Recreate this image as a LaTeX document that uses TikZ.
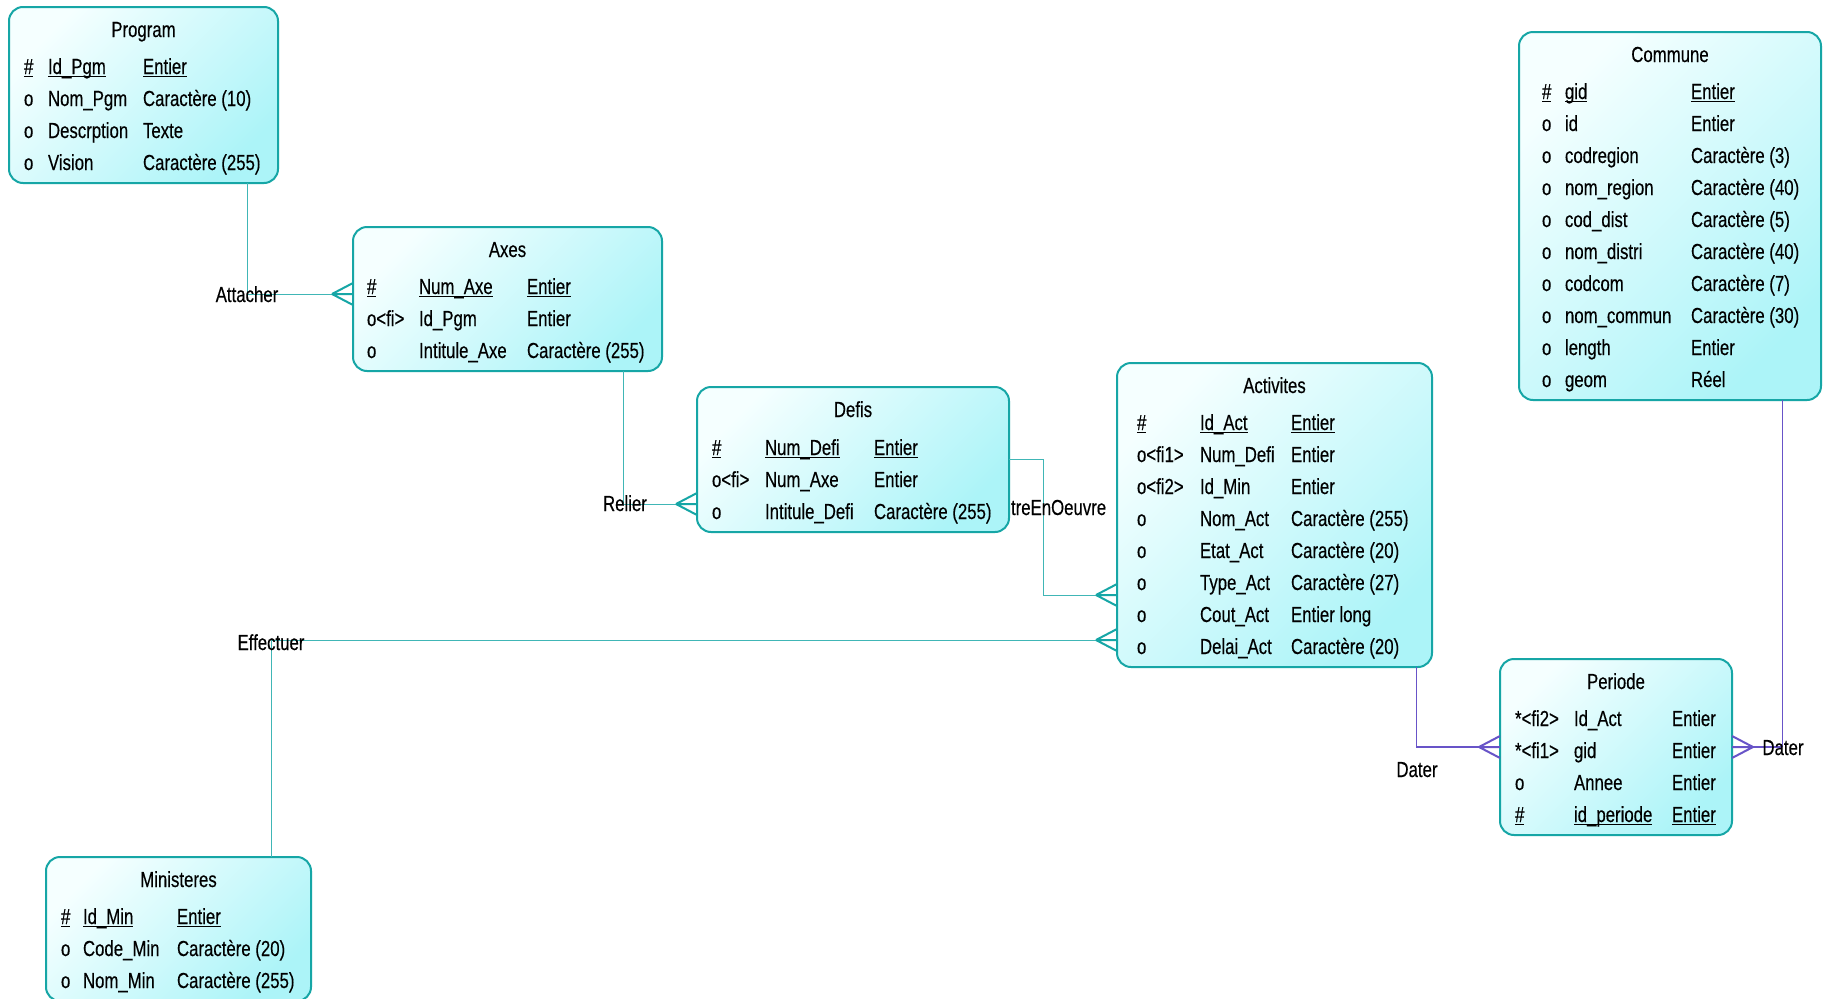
\documentclass[tikz,border=0pt]{standalone}
\usepackage{fontspec}
\setmainfont{Liberation Sans}[FakeStretch=0.77, FakeBold=0.3]
\definecolor{boxline}{RGB}{22,166,166}
\definecolor{fillA}{RGB}{245,255,255}
\definecolor{fillB}{RGB}{172,244,248}
\definecolor{linkc}{RGB}{64,182,182}
\definecolor{purp}{RGB}{104,84,200}
\tikzset{
 entbox/.style={draw=boxline, line width=2pt, rounded corners=14pt, top color=fillA, bottom color=fillB, shading angle=45, inner sep=0pt, outer sep=0pt, anchor=north west},
 txt/.style={anchor=base west, inner sep=0pt, outer sep=0pt},
 ttl/.style={anchor=base, inner sep=0pt, outer sep=0pt},
 lbl/.style={anchor=base, inner sep=0pt, outer sep=0pt},
 ulline/.style={line width=1.4pt, black},
 link/.style={draw=linkc, line width=1pt},
 purpthin/.style={draw=purp, line width=0.7pt},
 purpthick/.style={draw=purp, line width=2.2pt},
 crowL/.pic={\draw[line width=2pt, pic actions] (-21,0) -- (0,-11) (-21,0) -- (0,0) (-21,0) -- (0,11);},
 crowR/.pic={\draw[line width=2pt, pic actions] (21,0) -- (0,-11) (21,0) -- (0,0) (21,0) -- (0,11);}
}
\newcommand\ulbox[3]{\node[txt] (#1) at (#2) {#3};
  \draw[ulline] ([yshift=-2.5pt]#1.base west) -- ([yshift=-2.5pt]#1.base east);}
\begin{document}
\begin{tikzpicture}[x=1pt, y=-1pt, font=\fontsize{21.8pt}{25pt}\selectfont]
\clip (0,0) rectangle (1824,999);
\fill[white] (0,0) rectangle (1824,999);

% ---------- entity boxes ----------
\node[entbox, minimum width=269pt, minimum height=176pt] (program) at (9,7) {};
\node[entbox, minimum width=309pt, minimum height=144pt] (axes) at (353,227) {};
\node[entbox, minimum width=312pt, minimum height=145pt] (defis) at (697,387) {};
\node[entbox, minimum width=315pt, minimum height=304pt] (activites) at (1117,363) {};
\node[entbox, minimum width=302pt, minimum height=368pt] (commune) at (1519,32) {};
\node[entbox, minimum width=232pt, minimum height=176pt] (periode) at (1500,659) {};
\node[entbox, minimum width=265pt, minimum height=144pt] (ministeres) at (46,857) {};

% ---------- Program ----------
\node[ttl] (program-t) at (143.5,37) {Program};
\ulbox{program-k1}{24,74}{\#}
\ulbox{program-k2}{48,74}{Id\_Pgm}
\ulbox{program-k3}{143,74}{Entier}
\foreach \a/\b/\c [count=\i from 0] in {o/Nom\_Pgm/Caractère (10),o/Descrption/Texte,o/Vision/Caractère (255)}{
  \node[txt] (program-a\i) at (24,{106+32*\i}) {\a};
  \node[txt] (program-b\i) at (48,{106+32*\i}) {\b};
  \node[txt] (program-c\i) at (143,{106+32*\i}) {\c};
}

% ---------- Axes ----------
\node[ttl] (axes-t) at (507.5,257) {Axes};
\ulbox{axes-k1}{367,294}{\#}
\ulbox{axes-k2}{419,294}{Num\_Axe}
\ulbox{axes-k3}{527,294}{Entier}
\foreach \a/\b/\c [count=\i from 0] in {o<fi>/Id\_Pgm/Entier,o/Intitule\_Axe/Caractère (255)}{
  \node[txt] (axes-a\i) at (367,{326+32*\i}) {\a};
  \node[txt] (axes-b\i) at (419,{326+32*\i}) {\b};
  \node[txt] (axes-c\i) at (527,{326+32*\i}) {\c};
}

% ---------- Defis ----------
\node[ttl] (defis-t) at (853,417) {Defis};
\ulbox{defis-k1}{712,455}{\#}
\ulbox{defis-k2}{765,455}{Num\_Defi}
\ulbox{defis-k3}{874,455}{Entier}
\foreach \a/\b/\c [count=\i from 0] in {o<fi>/Num\_Axe/Entier,o/Intitule\_Defi/Caractère (255)}{
  \node[txt] (defis-a\i) at (712,{487+32*\i}) {\a};
  \node[txt] (defis-b\i) at (765,{487+32*\i}) {\b};
  \node[txt] (defis-c\i) at (874,{487+32*\i}) {\c};
}

% ---------- Activites ----------
\node[ttl] (activites-t) at (1274.5,393) {Activites};
\ulbox{activites-k1}{1137,430}{\#}
\ulbox{activites-k2}{1200,430}{Id\_Act}
\ulbox{activites-k3}{1291,430}{Entier}
\foreach \a/\b/\c [count=\i from 0] in {o<fi1>/Num\_Defi/Entier,o<fi2>/Id\_Min/Entier,o/Nom\_Act/Caractère (255),o/Etat\_Act/Caractère (20),o/Type\_Act/Caractère (27),o/Cout\_Act/Entier long,o/Delai\_Act/Caractère (20)}{
  \node[txt] (activites-a\i) at (1137,{462+32*\i}) {\a};
  \node[txt] (activites-b\i) at (1200,{462+32*\i}) {\b};
  \node[txt] (activites-c\i) at (1291,{462+32*\i}) {\c};
}

% ---------- Commune ----------
\node[ttl] (commune-t) at (1670,62) {Commune};
\ulbox{commune-k1}{1542,99}{\#}
\ulbox{commune-k2}{1565,99}{gid}
\ulbox{commune-k3}{1691,99}{Entier}
\foreach \a/\b/\c [count=\i from 0] in {o/id/Entier,o/codregion/Caractère (3),o/nom\_region/Caractère (40),o/cod\_dist/Caractère (5),o/nom\_distri/Caractère (40),o/codcom/Caractère (7),o/nom\_commun/Caractère (30),o/length/Entier,o/geom/Réel}{
  \node[txt] (commune-a\i) at (1542,{131+32*\i}) {\a};
  \node[txt] (commune-b\i) at (1565,{131+32*\i}) {\b};
  \node[txt] (commune-c\i) at (1691,{131+32*\i}) {\c};
}

% ---------- Periode ----------
\node[ttl] (periode-t) at (1616,689) {Periode};
\foreach \a/\b/\c [count=\i from 0] in {*<fi2>/Id\_Act/Entier,*<fi1>/gid/Entier,o/Annee/Entier}{
  \node[txt] (periode-a\i) at (1515,{726+32*\i}) {\a};
  \node[txt] (periode-b\i) at (1574,{726+32*\i}) {\b};
  \node[txt] (periode-c\i) at (1672,{726+32*\i}) {\c};
}
\ulbox{periode-k1}{1515,822}{\#}
\ulbox{periode-k2}{1574,822}{id\_periode}
\ulbox{periode-k3}{1672,822}{Entier}

% ---------- Ministeres ----------
\node[ttl] (ministeres-t) at (178.5,887) {Ministeres};
\ulbox{ministeres-k1}{61,924}{\#}
\ulbox{ministeres-k2}{83,924}{Id\_Min}
\ulbox{ministeres-k3}{177,924}{Entier}
\foreach \a/\b/\c [count=\i from 0] in {o/Code\_Min/Caractère (20),o/Nom\_Min/Caractère (255)}{
  \node[txt] (ministeres-a\i) at (61,{956+32*\i}) {\a};
  \node[txt] (ministeres-b\i) at (83,{956+32*\i}) {\b};
  \node[txt] (ministeres-c\i) at (177,{956+32*\i}) {\c};
}

% ---------- connectors ----------
% Attacher
\coordinate (attC) at (247,294);
\draw[link] (program.south -| attC) -- (attC) -- (axes.west |- attC);
\pic[draw=boxline] at (axes.west |- attC) {crowL};
\node[lbl] (attacher) at (247,302) {Attacher};

% Relier
\coordinate (relC) at (623,504);
\draw[link] (axes.south -| relC) -- (relC) -- (defis.west |- relC);
\pic[draw=boxline] at (defis.west |- relC) {crowL};
\node[lbl] (relier) at (625,511) {Relier};

% MettreEnOeuvre
\coordinate (metA) at (1043,459);
\coordinate (metB) at (1043,595);
\draw[link] (defis.east |- metA) -- (metA) -- (metB) -- (activites.west |- metB);
\pic[draw=boxline] at (activites.west |- metB) {crowL};
\node[txt] (mettre) at (1011,515) {treEnOeuvre};

% Effectuer
\coordinate (effC) at (271,640);
\draw[link] (ministeres.north -| effC) -- (effC) -- (activites.west |- effC);
\pic[draw=boxline] at (activites.west |- effC) {crowL};
\node[lbl] (effectuer) at (271,650) {Effectuer};

% Dater (Activites - Periode)
\coordinate (datC1) at (1416,747);
\draw[purpthin] (activites.south -| datC1) -- (datC1);
\draw[purpthick] (datC1) -- (periode.west |- datC1);
\pic[draw=purp] at (periode.west |- datC1) {crowL};
\node[lbl] (dater1) at (1417,777) {Dater};

% Dater (Commune - Periode)
\coordinate (datC2) at (1782,747);
\draw[purpthin] (commune.south -| datC2) -- (datC2);
\draw[purpthick] (datC2) -- (periode.east |- datC2);
\pic[draw=purp] at (periode.east |- datC2) {crowR};
\node[lbl] (dater2) at (1783,755) {Dater};
\end{tikzpicture}
\end{document}
